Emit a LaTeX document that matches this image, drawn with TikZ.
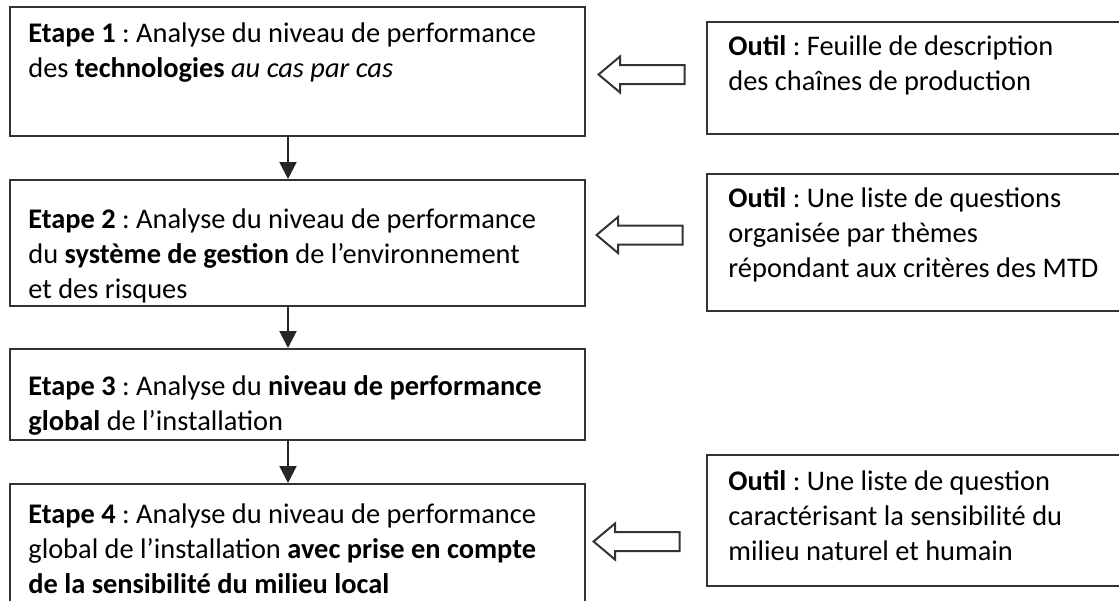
\documentclass[tikz,border=0pt]{standalone}
\usepackage{fontspec}
\setmainfont{Carlito}
\usetikzlibrary{arrows.meta, positioning, shapes.arrows}
\frenchspacing

\begin{document}
\begin{tikzpicture} [
		every node/.style={font=\fontsize{14.2pt}{17.5pt}\selectfont},
		box/.style={draw=black!80, line width=1pt, minimum width=287.5pt, inner sep=0pt, anchor=north west},
		outil/.style={box, minimum width=209pt},
		txt/.style={anchor=north west, align=left, inner sep=0pt},
		flow/.style={draw=black!85, line width=1pt, -{Triangle[width=8.5pt,length=8.5pt]}},
		tool/.style={single arrow, draw=black!80, line width=1pt, shape border rotate=180,
			minimum height=43pt, minimum width=17pt, single arrow head extend=4.25pt,
			single arrow tip angle=80, inner xsep=0pt, inner ysep=4.25pt, anchor=tip}
	]

\useasboundingbox (0,0) rectangle (559.5pt,-300pt);
\clip (0,0) rectangle (559.5pt,-300pt);

% etapes
\node (e1) [box, minimum height=64.5pt] at (4.5pt,-3pt) {};
\node (e2) [box, minimum height=63pt, below=21pt of e1] {};
\node (e3) [box, minimum height=45.5pt, below=20.5pt of e2] {};
\node (e4) [box, minimum height=65pt, below=21pt of e3] {};

\node (t1) [txt] at ([shift={(9.5pt,-8pt)}]e1.north west)
	{\textbf{Etape 1} : Analyse du niveau de performance\\des \textbf{technologies} \textit{au cas par cas}};
\node (t2) [txt] at ([shift={(9.5pt,-14.5pt)}]e2.north west)
	{\textbf{Etape 2} : Analyse du niveau de performance\\du \textbf{système de gestion} de l’environnement\\et des risques};
\node (t3) [txt] at ([shift={(9.5pt,-13.5pt)}]e3.north west)
	{\textbf{Etape 3} : Analyse du \textbf{niveau de performance}\\\textbf{global} de l’installation};
\node (t4) [txt] at ([shift={(9.5pt,-10pt)}]e4.north west)
	{\textbf{Etape 4} : Analyse du niveau de performance\\global de l’installation \textbf{avec prise en compte}\\\textbf{de la sensibilité du milieu local}};

% outils
\node (o1) [outil, minimum height=56pt] at (353pt,-10.5pt) {};
\node (o2) [outil, minimum height=68.5pt] at (353pt,-86.5pt) {};
\node (o3) [outil, minimum height=65.5pt] at (353pt,-227pt) {};

\node (u1) [txt] at ([shift={(11pt,-7pt)}]o1.north west)
	{\textbf{Outil} : Feuille de description\\des chaînes de production};
\node (u2) [txt] at ([shift={(11pt,-7pt)}]o2.north west)
	{\textbf{Outil} : Une liste de questions\\organisée par thèmes\\répondant aux critères des MTD};
\node (u3) [txt] at ([shift={(11pt,-8pt)}]o3.north west)
	{\textbf{Outil} : Une liste de question\\caractérisant la sensibilité du\\milieu naturel et humain};

\node (a1) [tool] at ([shift={(5.5pt,-1.5pt)}]e1.east) {};
\node (a2) [tool] at ([shift={(4.5pt,4pt)}]e2.east) {};
\node (a3) [tool] at ([shift={(3pt,3.75pt)}]e4.east) {};

\draw[flow] ([xshift=-4.75pt]e1.south) -- ([xshift=-4.75pt]e2.north);
\draw[flow] ([xshift=-4.75pt]e2.south) -- ([xshift=-4.75pt]e3.north);
\draw[flow] ([xshift=-4.75pt]e3.south) -- ([xshift=-4.75pt]e4.north);
\end{tikzpicture}
\end{document}
